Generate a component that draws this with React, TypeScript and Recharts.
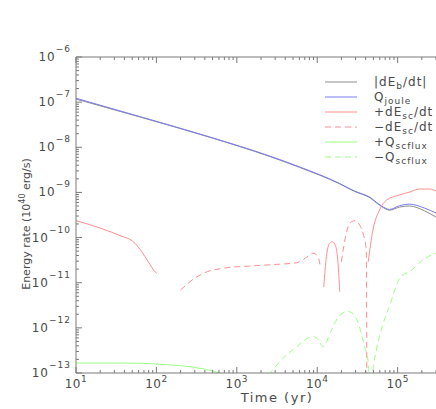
import React from "react";
import { LineChart, Line, XAxis, YAxis, Legend } from "recharts";

// decades shown on the axes, minor ticks at 2..9 of each
const timeDecades = [10, 100, 1000, 10000, 100000];
const rateDecades = [1e-13, 1e-12, 1e-11, 1e-10, 1e-9, 1e-8, 1e-7, 1e-6];
const minorSteps = [2, 3, 4, 5, 6, 7, 8, 9];

// |dE_b/dt| and Q_joule share the same times
const bulkTime = [10, 62, 462, 2570, 6070, 19000, 29200, 36700, 44900, 51800, 63200, 79500, 106000, 141000, 216000, 300000];
const ebRate = [1.17e-7, 4.7e-8, 1.66e-8, 6.25e-9, 3.57e-9, 1.55e-9, 1.05e-9, 9.0e-10, 7.7e-10, 6.3e-10, 4.85e-10, 4.05e-10, 4.75e-10, 5.0e-10, 3.9e-10, 2.85e-10];
const jouleRate = [1.22e-7, 4.8e-8, 1.69e-8, 6.4e-9, 3.66e-9, 1.58e-9, 1.07e-9, 9.2e-10, 7.9e-10, 6.5e-10, 5.0e-10, 4.2e-10, 5.1e-10, 5.5e-10, 4.5e-10, 3.5e-10];

// +dE_sc/dt (null = gap where the sign flips)
const scPosTime = [10, 19.9, 38.7, 47, 54.2, 65.6, 79.3, 96, 101, 150, 12050, 13000, 14300, 15450, 17000, 18140, 19050, 30000, 43000, 49300, 59700, 73000, 106000, 141000, 187000, 250000, 300000];
const scPosRate = [2.37e-10, 1.63e-10, 1.04e-10, 9.1e-11, 7.45e-11, 4.86e-11, 2.92e-11, 1.75e-11, 1.61e-11, null, 8.0e-12, 3.77e-11, 7.5e-11, 8.1e-11, 6.3e-11, 2.7e-11, 6.3e-12, null, 2.9e-11, 1.47e-10, 4.1e-10, 6.8e-10, 8.8e-10, 1.02e-9, 1.19e-9, 1.19e-9, 1.08e-9];

// -dE_sc/dt
const scNegTime = [200, 286, 400, 676, 1450, 3110, 5520, 7350, 8870, 10240, 10960, 11500, 19950, 23000, 25400, 29200, 33700, 37100, 40800, 41600];
const scNegRate = [6.9e-12, 1.19e-11, 1.67e-11, 2.09e-11, 2.34e-11, 2.55e-11, 2.77e-11, 3.65e-11, 4.5e-11, 3.77e-11, 2.2e-11, null, 2.9e-11, 1.24e-10, 2.07e-10, 2.37e-10, 1.9e-10, 1.24e-10, 5.2e-11, 1e-15];

// +Q_scflux
const fluxPosTime = [10, 43, 90, 160, 261, 615, 800];
const fluxPosRate = [1.66e-13, 1.66e-13, 1.6e-13, 1.5e-13, 1.38e-13, 1.0e-13, 8.5e-14];

// -Q_scflux
const fluxNegTime = [2500, 3590, 5520, 8880, 10240, 11800, 15000, 19050, 24200, 30700, 38900, 42800, 45000, 48900, 54300, 65700, 79500, 106000, 149000, 206000, 300000];
const fluxNegRate = [9e-14, 1.95e-13, 3.8e-13, 6.4e-13, 5.6e-13, 3.8e-13, 8.9e-13, 1.9e-12, 2.3e-12, 1.6e-12, 3.8e-13, 1.9e-13, 1e-14, 1e-13, 3.2e-13, 1.2e-12, 3.1e-12, 1.25e-11, 1.9e-11, 3.2e-11, 4.5e-11];

const GREY = "#8c8c8c";
const BLUE = "#7b7bf0";
const RED = "#ff8e8e";
const GREEN = "#9cff84";
const AXIS = "#7a7a7a";
const TEXT = "#4a4a4a";
const FONT = "'DejaVu Sans', sans-serif";
const DASH = "6 4";

const T_MAX = 3e5;

const legendRows = [
  { pre: "|dE", sub: "b", post: "/dt|", color: GREY, dash: undefined },
  { pre: "Q", sub: "joule", post: "", color: BLUE, dash: undefined },
  { pre: "+dE", sub: "sc", post: "/dt", color: RED, dash: undefined },
  { pre: "\u2212dE", sub: "sc", post: "/dt", color: RED, dash: DASH },
  { pre: "+Q", sub: "scflux", post: "", color: GREEN, dash: undefined },
  { pre: "\u2212Q", sub: "scflux", post: "", color: GREEN, dash: DASH },
];

const zip = (ts: number[], vs: (number | null)[]) => ts.map((t, i) => ({ t, v: vs[i] }));

const withMinors = (decades: number[], max: number) =>
  [...decades, ...decades.flatMap((d) => minorSteps.map((m) => d * m))]
    .filter((v) => v <= max * 1.0001)
    .sort((a, b) => a - b);

const xTicks = withMinors(timeDecades, T_MAX);
const yTicks = withMinors(rateDecades, 1e-6);

function isMajor(v: number) {
  const l = Math.log10(v);
  return Math.abs(l - Math.round(l)) < 1e-6;
}

function expText(v: number) {
  const e = Math.round(Math.log10(v));
  return e < 0 ? "\u2212" + -e : String(e);
}

function BottomTick(props: any) {
  const { x, y, payload } = props;
  const major = isMajor(payload.value);
  return (
    <g>
      <line x1={x} y1={y} x2={x} y2={y - (major ? 6 : 3)} stroke={AXIS} />
      {major && (
        <text x={x} y={y + 15} textAnchor="middle" fill={TEXT} fontSize={12} fontFamily={FONT} letterSpacing={0.5}>
          10
          <tspan dy={-6} fontSize={9}>
            {expText(payload.value)}
          </tspan>
        </text>
      )}
    </g>
  );
}

function TopTick(props: any) {
  const { x, y, payload } = props;
  const major = isMajor(payload.value);
  return <line x1={x} y1={y} x2={x} y2={y + (major ? 6 : 3)} stroke={AXIS} />;
}

function LeftTick(props: any) {
  const { x, y, payload } = props;
  const major = isMajor(payload.value);
  return (
    <g>
      <line x1={x} y1={y} x2={x + (major ? 6 : 3)} y2={y} stroke={AXIS} />
      {major && (
        <text x={x - 5} y={y + 4} textAnchor="end" fill={TEXT} fontSize={12} fontFamily={FONT} letterSpacing={1}>
          10
          <tspan dy={-9} fontSize={9}>
            {expText(payload.value)}
          </tspan>
        </text>
      )}
    </g>
  );
}

function TimeLabel(props: any) {
  const vb = props.viewBox || { x: 76, y: 373, width: 360, height: 36 };
  return (
    <text x={vb.x + vb.width / 2 + 21} y={vb.y + vb.height - 7} textAnchor="middle" fill={TEXT} fontSize={13} fontFamily={FONT} letterSpacing={1.5}>
      Time (yr)
    </text>
  );
}

function RateLabel(props: any) {
  const vb = props.viewBox || { x: 0, y: 57, width: 76, height: 316 };
  const cx = vb.x + 30;
  const cy = vb.y + vb.height / 2 + 9;
  return (
    <text transform={`translate(${cx}, ${cy}) rotate(-90)`} textAnchor="middle" fill={TEXT} fontSize={11} fontFamily={FONT}>
      Energy rate (10
      <tspan dy={-5} fontSize={8}>
        40
      </tspan>
      <tspan dy={5}> erg/s)</tspan>
    </text>
  );
}

function LegendBox() {
  return (
    <svg width={116} height={100}>
      {legendRows.map((r, i) => {
        const y = 10 + i * 15;
        return (
          <g key={i}>
            <line x1={5} y1={y} x2={37} y2={y} stroke={r.color} strokeDasharray={r.dash} />
            <text x={54} y={y + 4} fill={TEXT} fontSize={12} fontFamily={FONT} letterSpacing={1}>
              {r.pre}
              <tspan dy={3} fontSize={9}>
                {r.sub}
              </tspan>
              {r.post && <tspan dy={-3}>{r.post}</tspan>}
            </text>
          </g>
        );
      })}
    </svg>
  );
}

export default function App() {
  const lineProps = {
    type: "monotone" as const,
    dataKey: "v",
    dot: false,
    activeDot: false,
    strokeWidth: 1,
    connectNulls: false,
    isAnimationActive: false,
  };

  return (
    <div style={{ position: "absolute", left: 0, top: 0, width: 436, height: 409, overflow: "hidden", background: "#fff" }}>
      <LineChart width={436} height={409} margin={{ top: 0, right: 0, bottom: 0, left: 0 }}>
        <XAxis
          dataKey="t"
          type="number"
          scale="log"
          domain={[10, T_MAX]}
          allowDataOverflow
          ticks={xTicks}
          interval={0}
          height={36}
          tickSize={0}
          tickMargin={0}
          stroke={AXIS}
          tick={(p: any) => <BottomTick {...p} />}
          label={(p: any) => <TimeLabel {...p} />}
        />
        <XAxis
          xAxisId="top"
          orientation="top"
          dataKey="t"
          type="number"
          scale="log"
          domain={[10, T_MAX]}
          allowDataOverflow
          ticks={xTicks}
          interval={0}
          height={57}
          tickSize={0}
          tickMargin={0}
          stroke={AXIS}
          tick={(p: any) => <TopTick {...p} />}
        />
        <YAxis
          type="number"
          scale="log"
          domain={[1e-13, 1e-6]}
          allowDataOverflow
          ticks={yTicks}
          interval={0}
          width={76}
          tickSize={0}
          tickMargin={0}
          stroke={AXIS}
          tick={(p: any) => <LeftTick {...p} />}
          label={(p: any) => <RateLabel {...p} />}
        />
        <Legend
          layout="vertical"
          align="center"
          verticalAlign="middle"
          content={() => <LegendBox />}
          wrapperStyle={{ position: "absolute", left: 320, top: 72, width: 116, height: 100 }}
        />
        <Line {...lineProps} data={zip(bulkTime, ebRate)} stroke={GREY} />
        <Line {...lineProps} data={zip(bulkTime, jouleRate)} stroke={BLUE} />
        <Line {...lineProps} data={zip(scPosTime, scPosRate)} stroke={RED} />
        <Line {...lineProps} data={zip(scNegTime, scNegRate)} stroke={RED} strokeDasharray={DASH} />
        <Line {...lineProps} data={zip(fluxPosTime, fluxPosRate)} stroke={GREEN} />
        <Line {...lineProps} data={zip(fluxNegTime, fluxNegRate)} stroke={GREEN} strokeDasharray={DASH} />
      </LineChart>
    </div>
  );
}
